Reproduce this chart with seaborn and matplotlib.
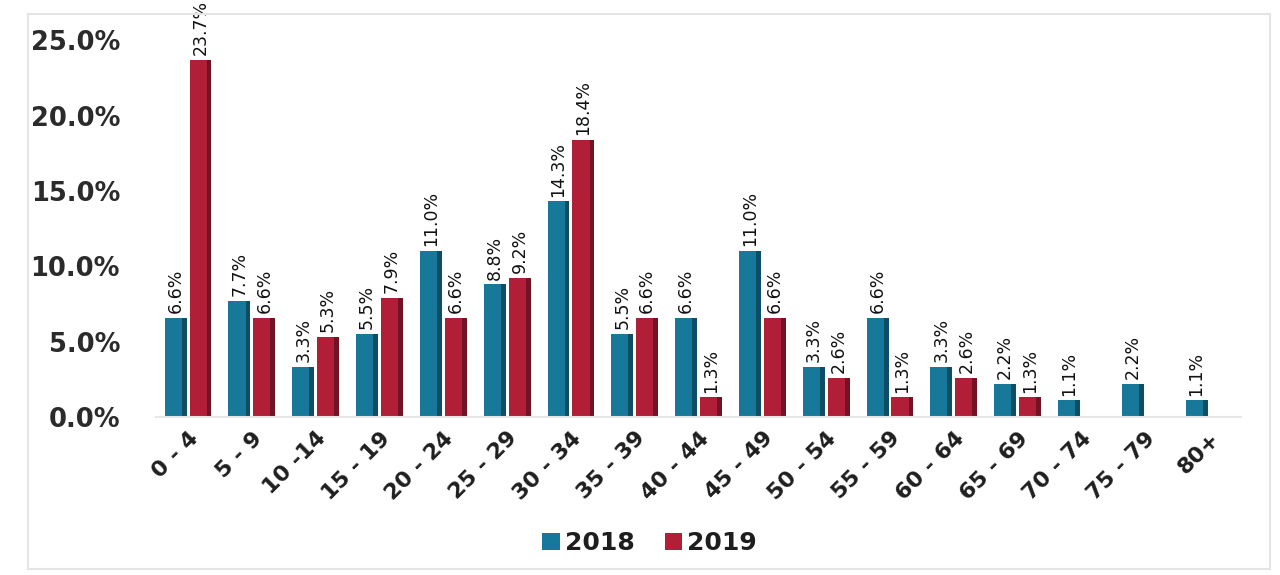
import numpy as np
import pandas as pd
import matplotlib
matplotlib.use("Agg")
import matplotlib.pyplot as plt
import seaborn as sns
from matplotlib.patches import Rectangle

# Age groups and share of cases per year (percent)
age_groups = ["0 - 4", "5 - 9", "10 -14", "15 - 19", "20 - 24", "25 - 29", "30 - 34",
              "35 - 39", "40 - 44", "45 - 49", "50 - 54", "55 - 59", "60 - 64",
              "65 - 69", "70 - 74", "75 - 79", "80+"]
share_2018 = [6.6, 7.7, 3.3, 5.5, 11.0, 8.8, 14.3, 5.5, 6.6, 11.0, 3.3, 6.6, 3.3,
              2.2, 1.1, 2.2, 1.1]
share_2019 = [23.7, 6.6, 5.3, 7.9, 6.6, 9.2, 18.4, 6.6, 1.3, 6.6, 2.6, 1.3, 2.6,
              1.3, np.nan, np.nan, np.nan]
years = ["2018", "2019"]
y_ticks = [0, 5, 10, 15, 20, 25]

df = pd.DataFrame({
    "age": age_groups * 2,
    "share": share_2018 + share_2019,
    "year": [years[0]] * len(age_groups) + [years[1]] * len(age_groups),
}).dropna()

sns.set_style("white")
plt.rcParams["font.family"] = ["DejaVu Sans"]

fig = plt.figure(figsize=(12.8, 5.75), dpi=100)
ax = fig.add_axes([0.122, 0.2748, 0.8475, 0.6552])

palette = {"2018": "#17789a", "2019": "#b01e38"}
sns.barplot(data=df, x="age", y="share", hue="year", order=age_groups,
            hue_order=years, palette=palette, width=0.78, gap=0.12,
            saturation=1, edgecolor="none", ax=ax)

bars = [p for cont in ax.containers for p in cont.patches if p is not None]

# darker right edge on each bar for a shaded cylinder look, plus value label
for p in bars:
    h = p.get_height()
    if np.isnan(h) or h == 0:
        continue
    w = p.get_width()
    x0 = p.get_x()
    ax.add_patch(Rectangle((x0 + w * 0.78, 0), w * 0.22, h,
                           facecolor="black", alpha=0.35, edgecolor="none"))
    ax.annotate(f"{h:.1f}%", (x0 + w / 2, h), xytext=(0, 3.5),
                textcoords="offset points", rotation=90, ha="center", va="bottom",
                fontsize=12.5, family=["Liberation Sans Narrow", "DejaVu Sans"],
                color="#111111", annotation_clip=False)

ax.set_ylim(0, 25)
ax.set_xlim(-0.5, len(age_groups) - 0.5)
ax.set_yticks(y_ticks)
ax.set_yticklabels([f"{t:.1f}%" for t in y_ticks], fontsize=18.5, fontweight="bold",
                   color="#2b2b2b")
ax.set_xticks(range(len(age_groups)))
ax.set_xticklabels(age_groups, rotation=45, ha="right", rotation_mode="anchor",
                   fontsize=16, fontweight="bold", color="#1e1e1e")
ax.tick_params(axis="y", length=0, pad=26)
ax.tick_params(axis="x", length=0, pad=8)
ax.set_xlabel("")
ax.set_ylabel("")
for s in ["top", "right", "left"]:
    ax.spines[s].set_visible(False)
ax.spines["bottom"].set_color("#e6e6e6")
ax.spines["bottom"].set_linewidth(1.5)

leg = ax.legend(loc="center", bbox_to_anchor=(0.455, -0.335), ncol=2, frameon=False,
                fontsize=18, handlelength=0.7, handleheight=0.7, handletextpad=0.2,
                columnspacing=1.2)
for t in leg.get_texts():
    t.set_fontweight("bold")
    t.set_color("#1e1e1e")

# light frame around the chart
fig.patches.append(Rectangle((0.022, 0.01), 0.97, 0.965, transform=fig.transFigure,
                             fill=False, edgecolor="#e4e4e4", linewidth=1.5))

fig.savefig("out.png", dpi=100)
